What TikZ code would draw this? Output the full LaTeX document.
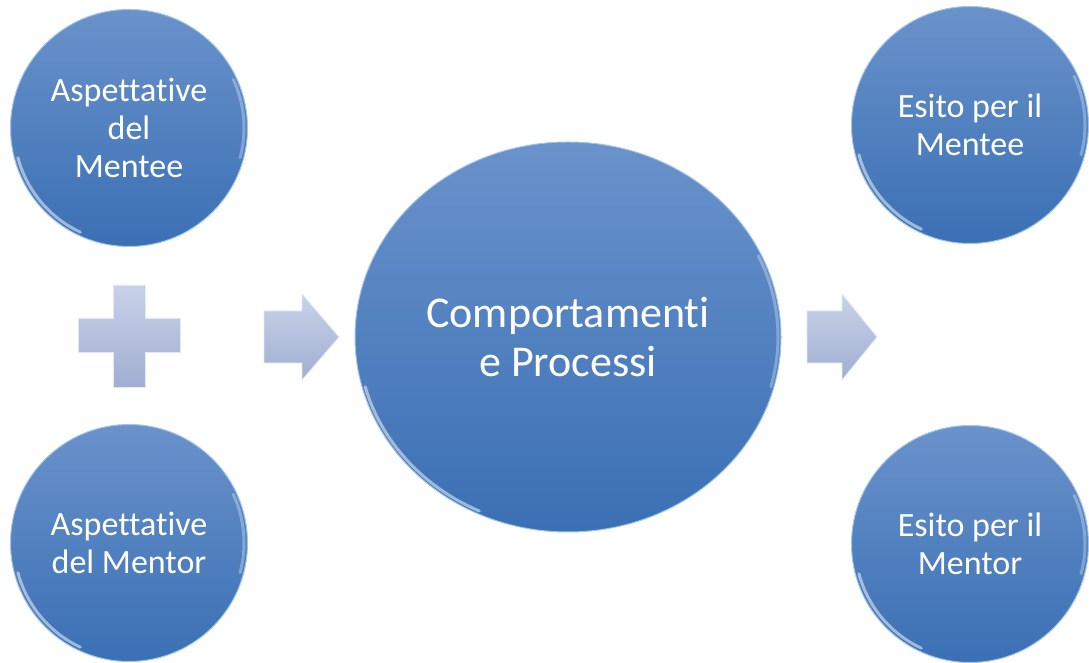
\documentclass[tikz,border=0pt]{standalone}
\usepackage{fontspec}
\setmainfont{Carlito}[Ligatures={NoCommon}]
\usetikzlibrary{shapes.geometric,calc}
\definecolor{bluetop}{RGB}{106,146,203}
\definecolor{bluebot}{RGB}{58,112,180}
\definecolor{bluerim}{RGB}{160,196,236}
\definecolor{greytop}{RGB}{200,210,234}
\definecolor{greybot}{RGB}{160,174,208}

\begin{document}
\begin{tikzpicture}[x=1pt,y=1pt,
    bubble/.style={circle,minimum size=237pt,inner sep=0pt,align=center,text=white,
      top color=bluetop,bottom color=bluebot,draw=bluerim,line width=1pt,
      font=\fontsize{34}{38}\selectfont},
    bigbubble/.style={bubble,ellipse,minimum width=426pt,minimum height=390pt,
      font=\fontsize{44}{49}\selectfont},
    shine/.style={white,opacity=.5,line width=3pt,line cap=round},
    block/.style={top color=greytop,bottom color=greybot,draw=greytop!50!white,line width=.8pt}]
        \clip (0,0) rectangle (1089,663);
        % expectations, process, outcomes
        \node[bubble] (menteeexp) at (129,535) {Aspettative\\del\\Mentee};
        \node[bubble] (mentorexp) at (129,120) {Aspettative\\del Mentor};
        \node[bigbubble] (proc) at (568,326) {Comportamenti\\e Processi};
        \node[bubble] (menteeout) at (970,538) {Esito per il\\Mentee};
        \node[bubble] (mentorout) at (970,119) {Esito per il\\Mentor};
        \foreach \n in {menteeexp,mentorexp,menteeout,mentorout}
          \draw[shine] ($(\n)+(195:115pt)$) arc[start angle=195,end angle=245,radius=115pt];
        \foreach \n in {menteeexp,mentorexp,menteeout,mentorout}
          \draw[shine,opacity=.3] ($(\n)+(-15:115pt)$) arc[start angle=-15,end angle=25,radius=115pt];
        \draw[shine] ($(proc)+(195:210pt and 192pt)$) arc[start angle=195,end angle=245,x radius=210pt,y radius=192pt];
        \draw[shine,opacity=.3] ($(proc)+(-15:210pt and 192pt)$) arc[start angle=-15,end angle=25,x radius=210pt,y radius=192pt];
        % plus
        \draw[block] (113,276) -- (145,276) -- (145,311) -- (180,311) -- (180,345) -- (145,345)
          -- (145,378) -- (113,378) -- (113,345) -- (78,345) -- (78,311) -- (113,311) -- cycle;
        % block arrows
        \foreach \a/\b/\c in {264/302/339,807/842/877}
          \draw[block] (\a,300) -- (\b,300) -- (\b,283) -- (\c,326) -- (\b,369) -- (\b,352) -- (\a,352) -- cycle;
\end{tikzpicture}
\end{document}
